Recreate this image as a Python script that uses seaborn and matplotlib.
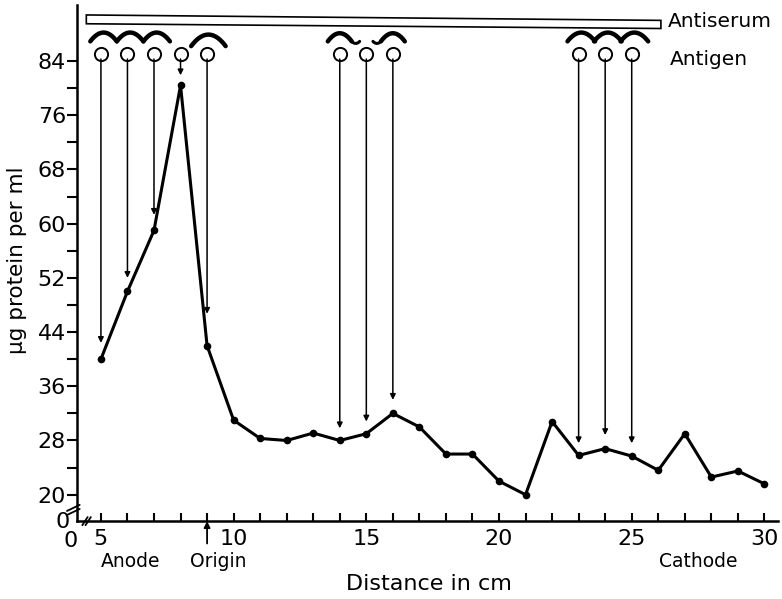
import numpy as np
import pandas as pd
import matplotlib
matplotlib.use("Agg")
import matplotlib.pyplot as plt
import seaborn as sns

# protein concentration along the gel
distance = [5, 6, 7, 8, 9, 10, 11, 12, 13, 14, 15, 16, 17, 18,
            19, 20, 21, 22, 23, 24, 25, 26, 27, 28, 29, 30]
protein = [40, 50, 59, 80.4, 42, 31, 28.3, 28, 29.1, 28, 29, 32, 30, 26,
           26, 22, 20, 30.8, 25.8, 26.8, 25.7, 23.6, 29, 22.6, 23.5, 21.6]

# antigen wells and where their arrows stop
antigen_x = [5, 6, 7, 8, 9, 14, 15, 16, 23, 24, 25]
arrow_end = [42.4, 52.0, 61.3, 81.9, 46.7, 29.8, 30.8, 34.0, 27.6, 28.8, 27.6]

y_major = [20, 28, 36, 44, 52, 60, 68, 76, 84]
y_minor = [24, 32, 40, 48, 56, 64, 72, 80]
x_labeled = [5, 10, 15, 20, 25, 30]

sns.set_theme(style="ticks")
plt.rcParams['font.family'] = ['DejaVu Sans']
plt.rcParams['text.color'] = 'black'

fig = plt.figure(figsize=(7.82, 5.99), dpi=100)
ax = fig.add_axes([0.0985, 0.130, 0.897, 0.862])

df = pd.DataFrame({"distance": distance, "protein": protein})
sns.lineplot(data=df, x="distance", y="protein", ax=ax, color="black",
             lw=2.2, marker="o", markersize=5.5, markeredgewidth=0)

ax.set_xlim(4.1, 30.53)
ax.set_ylim(16.1, 92.3)

# axes look
sns.despine(ax=ax)
for s in ["left", "bottom"]:
    ax.spines[s].set_linewidth(1.8)
    ax.spines[s].set_color("black")
ax.set_yticks(y_major)
ax.set_yticks(y_minor, minor=True)
ax.set_xticks(x_labeled)
ax.set_xticks(range(5, 31), minor=True)
ax.tick_params(axis="y", which="both", direction="out", length=7, width=1.5,
               labelsize=16, pad=1, colors="black")
ax.tick_params(axis="x", which="both", direction="in", length=6, width=1.5,
               labelsize=16, pad=6, colors="black")
ax.set_xlabel("")
ax.set_ylabel("")
ax.grid(False)

fig.text(0.022, 0.565, "\u03bcg protein per ml", rotation=90, fontsize=15.5,
         ha="center", va="center")
fig.text(0.548, 0.025, "Distance in cm", fontsize=16, ha="center", va="center")

# broken axis zeros and slashes
ax.text(3.84, 14.7, "0", fontsize=16, ha="center", va="top", clip_on=False)
ax.text(3.55, 15.9, "0", fontsize=16, ha="center", va="center", clip_on=False)
for dx in [0, 0.12]:
    ax.plot([4.3 + dx, 4.5 + dx], [15.5, 16.7], color="black", lw=1.3, clip_on=False)
for dy in [0, 0.6]:
    ax.plot([3.72, 4.2], [17.0 + dy, 17.9 + dy], color="black", lw=1.3, clip_on=False)

# axis annotations
ax.text(5, 10.2, "Anode", fontsize=13.5, ha="left", va="center", clip_on=False)
ax.text(9.43, 10.2, "Origin", fontsize=13.5, ha="center", va="center", clip_on=False)
ax.text(27.5, 10.2, "Cathode", fontsize=13.5, ha="center", va="center", clip_on=False)
ax.annotate("", xy=(9, 16.1), xytext=(9, 12.8), annotation_clip=False,
            arrowprops=dict(arrowstyle="-|>", color="black", lw=1.3,
                            mutation_scale=9, shrinkA=0, shrinkB=0))

# antiserum trough
ax.fill([4.45, 26.1, 26.1, 4.45], [89.5, 88.8, 90.0, 90.8],
        facecolor="white", edgecolor="black", lw=1.2, clip_on=False)
ax.text(26.35, 89.9, "Antiserum", fontsize=14.5, ha="left", va="center")
ax.text(26.45, 84.3, "Antigen", fontsize=14.5, ha="left", va="center")

# antigen wells with arrows to the curve
for xa, ye in zip(antigen_x, arrow_end):
    ax.annotate("", xy=(xa, ye), xytext=(xa, 84.3),
                arrowprops=dict(arrowstyle="-|>", color="black", lw=1.1,
                                mutation_scale=8, shrinkA=0, shrinkB=0))
ax.plot(antigen_x, [85.1] * len(antigen_x), "o", markersize=9.5,
        markerfacecolor="white", markeredgecolor="black", markeredgewidth=1.4,
        linestyle="none", clip_on=False)


# precipitin arcs above the wells
def arc(center, half, base, height, lw=3.2):
    t = np.linspace(-1, 1, 40)
    ax.plot(center + half * t, base + height * (1 - t ** 2), color="black",
            lw=lw, solid_capstyle="round", clip_on=False)


for c in [5.1, 6.1, 7.1]:
    arc(c, 0.5, 86.9, 1.3)
arc(9.05, 0.65, 86.2, 1.7)
arc(14.0, 0.45, 86.9, 1.2)
arc(14.6, 0.15, 86.9, -0.3, lw=2.2)
arc(16.0, 0.45, 86.9, 1.2)
arc(15.4, 0.15, 86.9, -0.3, lw=2.2)
for c in [23.1, 24.1, 25.1]:
    arc(c, 0.52, 86.9, 1.3)

fig.savefig("out.png", dpi=100)
